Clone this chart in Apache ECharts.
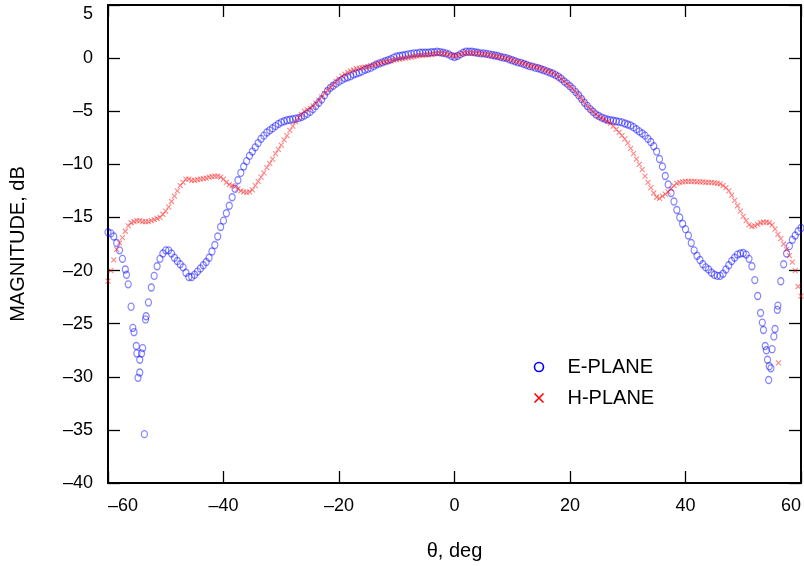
<!DOCTYPE html>
<html>
<head>
<meta charset="utf-8">
<script src="https://cdn.jsdelivr.net/npm/echarts@6/dist/echarts.min.js"></script>
<style>
html,body{margin:0;padding:0;background:#fff;}
#chart{width:804px;height:566px;}
</style>
</head>
<body>
<div id="chart"></div>
<script>
// Sample angles (deg)
const angles = [
 -60,-59.5,-59,-58.5,-58,-57.5,-57,-56.5,-56,-55.5,
 -55,-54.5,-54,-53.5,-53,-52.5,-52,-51.5,-51,-50.5,
 -50,-49.5,-49,-48.5,-48,-47.5,-47,-46.5,-46,-45.5,
 -45,-44.5,-44,-43.5,-43,-42.5,-42,-41.5,-41,-40.5,
 -40,-39.5,-39,-38.5,-38,-37.5,-37,-36.5,-36,-35.5,
 -35,-34.5,-34,-33.5,-33,-32.5,-32,-31.5,-31,-30.5,
 -30,-29.5,-29,-28.5,-28,-27.5,-27,-26.5,-26,-25.5,
 -25,-24.5,-24,-23.5,-23,-22.5,-22,-21.5,-21,-20.5,
 -20,-19.5,-19,-18.5,-18,-17.5,-17,-16.5,-16,-15.5,
 -15,-14.5,-14,-13.5,-13,-12.5,-12,-11.5,-11,-10.5,
 -10,-9.5,-9,-8.5,-8,-7.5,-7,-6.5,-6,-5.5,
 -5,-4.5,-4,-3.5,-3,-2.5,-2,-1.5,-1,-0.5,
 0,0.5,1,1.5,2,2.5,3,3.5,4,4.5,
 5,5.5,6,6.5,7,7.5,8,8.5,9,9.5,
 10,10.5,11,11.5,12,12.5,13,13.5,14,14.5,
 15,15.5,16,16.5,17,17.5,18,18.5,19,19.5,
 20,20.5,21,21.5,22,22.5,23,23.5,24,24.5,
 25,25.5,26,26.5,27,27.5,28,28.5,29,29.5,
 30,30.5,31,31.5,32,32.5,33,33.5,34,34.5,
 35,35.5,36,36.5,37,37.5,38,38.5,39,39.5,
 40,40.5,41,41.5,42,42.5,43,43.5,44,44.5,
 45,45.5,46,46.5,47,47.5,48,48.5,49,49.5,
 50,50.5,51,51.5,52,52.5,53,53.5,54,54.5,
 55,55.5,56,56.5,57,57.5,58,58.5,59,59.5,
 60
];
// E-PLANE magnitude (dB)
const ePlane = [
 -16.4,-16.5,-16.8,-17.4,-18.1,-18.9,-19.9,-21.3,-23.4,-25.8,
 -27.8,-29.6,-27.3,-24.6,-23.0,-21.6,-20.5,-19.6,-18.9,-18.4,
 -18.1,-18.1,-18.4,-18.8,-19.1,-19.4,-19.7,-20.2,-20.6,-20.6,
 -20.4,-20.1,-19.8,-19.5,-19.2,-18.8,-18.2,-17.6,-16.8,-15.9,
 -15.3,-14.6,-13.9,-13.1,-12.3,-11.5,-10.8,-10.2,-9.7,-9.2,
 -8.8,-8.4,-8.0,-7.6,-7.3,-7.0,-6.8,-6.6,-6.4,-6.2,
 -6.05,-5.95,-5.85,-5.8,-5.75,-5.7,-5.65,-5.55,-5.4,-5.25,
 -5.05,-4.8,-4.5,-4.2,-3.9,-3.5,-3.1,-2.8,-2.6,-2.4,
 -2.2,-2.05,-1.9,-1.8,-1.7,-1.55,-1.45,-1.35,-1.25,-1.1,
 -1.0,-0.9,-0.75,-0.6,-0.5,-0.4,-0.3,-0.2,-0.1,0.05,
 0.15,0.2,0.25,0.3,0.35,0.4,0.45,0.45,0.5,0.5,
 0.5,0.5,0.55,0.55,0.6,0.55,0.5,0.45,0.35,0.2,
 0.1,0.2,0.35,0.5,0.6,0.6,0.6,0.55,0.5,0.45,
 0.45,0.4,0.35,0.3,0.25,0.2,0.1,0.05,0.0,-0.1,
 -0.2,-0.3,-0.4,-0.45,-0.55,-0.65,-0.75,-0.8,-0.9,-0.95,
 -1.05,-1.15,-1.25,-1.35,-1.45,-1.6,-1.75,-1.95,-2.2,-2.4,
 -2.65,-2.9,-3.2,-3.5,-3.85,-4.2,-4.5,-4.8,-5.05,-5.3,
 -5.45,-5.6,-5.7,-5.8,-5.85,-5.9,-5.95,-6.0,-6.05,-6.15,
 -6.25,-6.35,-6.5,-6.7,-6.9,-7.1,-7.3,-7.6,-7.9,-8.3,
 -8.8,-9.5,-10.2,-11.1,-11.9,-12.7,-13.5,-14.3,-15.0,-15.6,
 -16.1,-16.7,-17.4,-18.1,-18.6,-19.0,-19.4,-19.7,-19.9,-20.2,
 -20.4,-20.5,-20.5,-20.3,-19.9,-19.5,-19.1,-18.8,-18.5,-18.4,
 -18.35,-18.5,-18.9,-19.6,-20.9,-22.4,-24.0,-25.6,-27.5,-29.0,
 -27.4,-25.5,-23.3,-21.0,-19.4,-18.4,-17.7,-17.1,-16.7,-16.3,
 -16.0
];
// H-PLANE magnitude (dB)
const hPlane = [
 -21.0,-20.0,-19.0,-18.0,-17.4,-16.9,-16.3,-15.8,-15.5,-15.4,
 -15.3,-15.3,-15.4,-15.4,-15.4,-15.3,-15.2,-15.1,-15.0,-14.7,
 -14.4,-14.0,-13.5,-13.0,-12.5,-12.0,-11.7,-11.4,-11.4,-11.5,
 -11.5,-11.45,-11.4,-11.35,-11.3,-11.2,-11.15,-11.1,-11.1,-11.2,
 -11.4,-11.7,-11.9,-12.0,-12.1,-12.3,-12.5,-12.6,-12.65,-12.6,
 -12.4,-12.0,-11.6,-11.2,-10.8,-10.3,-9.9,-9.5,-9.0,-8.6,
 -8.2,-7.7,-7.3,-6.8,-6.4,-6.0,-5.6,-5.3,-5.0,-4.85,
 -4.7,-4.5,-4.25,-3.95,-3.65,-3.35,-3.05,-2.75,-2.5,-2.2,
 -1.95,-1.7,-1.5,-1.35,-1.2,-1.1,-1.0,-0.95,-0.9,-0.85,
 -0.8,-0.7,-0.65,-0.55,-0.5,-0.4,-0.35,-0.3,-0.25,-0.2,
 -0.15,-0.1,-0.05,0.0,0.05,0.1,0.15,0.2,0.25,0.25,
 0.3,0.3,0.35,0.4,0.45,0.45,0.45,0.4,0.35,0.25,
 0.2,0.25,0.35,0.45,0.5,0.5,0.5,0.45,0.45,0.4,
 0.4,0.35,0.3,0.25,0.2,0.15,0.1,0.05,-0.05,-0.1,
 -0.2,-0.3,-0.35,-0.45,-0.5,-0.6,-0.7,-0.75,-0.85,-0.9,
 -1.0,-1.1,-1.2,-1.3,-1.4,-1.55,-1.75,-1.95,-2.2,-2.4,
 -2.65,-2.9,-3.2,-3.5,-3.85,-4.2,-4.5,-4.8,-5.05,-5.3,
 -5.5,-5.65,-5.8,-5.95,-6.15,-6.4,-6.7,-7.0,-7.3,-7.6,
 -8.0,-8.5,-9.0,-9.5,-10.0,-10.5,-11.1,-11.7,-12.2,-12.7,
 -13.1,-13.2,-13.0,-12.8,-12.6,-12.3,-12.0,-11.8,-11.7,-11.65,
 -11.6,-11.6,-11.6,-11.6,-11.65,-11.65,-11.65,-11.7,-11.7,-11.7,
 -11.75,-11.8,-11.85,-12.0,-12.2,-12.5,-12.9,-13.4,-13.9,-14.4,
 -14.9,-15.3,-15.7,-15.85,-15.8,-15.65,-15.5,-15.45,-15.45,-15.5,
 -15.7,-16.1,-16.6,-17.0,-17.5,-18.0,-18.6,-19.2,-20.0,-21.5,
 -22.4
];
// Extra scattered measurement points in the nulls
const eExtraAngles = [-56.8,-55.7,-55.1,-54.8,-54.5,-54.2,-53.7,-53.4,53.3,53.8,54.2,54.4,54.8,55.3,55.9];
const eExtraValues = [-20.4,-25.4,-27.1,-30.1,-28.4,-27.8,-35.4,-24.3,-24.9,-27.1,-28.4,-30.3,-29.2,-26.2,-23.7];
const hExtraAngles = [56.1];
const hExtraValues = [-28.7];

const xTicks = [-60,-40,-20,0,20,40,60];
const yTicks = [-40,-35,-30,-25,-20,-15,-10,-5,0,5];

const eData = angles.map((a,i)=>[a,ePlane[i]]).concat(eExtraAngles.map((a,i)=>[a,eExtraValues[i]]));
const hData = angles.map((a,i)=>[a,hPlane[i]]).concat(hExtraAngles.map((a,i)=>[a,hExtraValues[i]]));

const FONT = '"Liberation Sans", Arial, Helvetica, sans-serif';
const dash = v => String(v).replace('-', '\u2013');
const xPath = 'path://M0,0L10,10M10,0L0,10';

const chart = echarts.init(document.getElementById('chart'), null, {renderer:'canvas'});
const axisLine = {show:true, onZero:false, lineStyle:{color:'#000', width:2}};
const tick = {show:true, inside:true, length:12, lineStyle:{color:'#000', width:1.3}};
chart.setOption({
  animation:false,
  backgroundColor:'#fff',
  textStyle:{fontFamily:FONT},
  grid:{left:108, right:3, top:5, bottom:83, containLabel:false},
  xAxis:[{
    type:'value', min:xTicks[0], max:xTicks[xTicks.length-1], interval:20, position:'bottom',
    axisLine:axisLine, axisTick:tick, splitLine:{show:false},
    axisLabel:{fontSize:18, color:'#000', margin:14, fontFamily:FONT, formatter:dash,
               alignMinLabel:'left', alignMaxLabel:'right'},
    name:'\u03b8, deg', nameLocation:'middle', nameGap:58,
    nameTextStyle:{fontSize:20, color:'#000', fontFamily:FONT}
  },{
    type:'value', min:xTicks[0], max:xTicks[xTicks.length-1], interval:20, position:'top',
    axisLine:axisLine, axisTick:tick, axisLabel:{show:false}, splitLine:{show:false}
  }],
  yAxis:[{
    type:'value', min:yTicks[0], max:yTicks[yTicks.length-1], interval:5, position:'left',
    axisLine:axisLine, axisTick:tick, splitLine:{show:false},
    axisLabel:{fontSize:18, color:'#000', margin:15, fontFamily:FONT, formatter:dash,
               verticalAlignMaxLabel:'top'},
    name:'MAGNITUDE, dB', nameLocation:'middle', nameGap:80, nameRotate:90,
    nameTextStyle:{fontSize:20, color:'#000', fontFamily:FONT}
  },{
    type:'value', min:yTicks[0], max:yTicks[yTicks.length-1], interval:5, position:'right',
    axisLine:axisLine, axisTick:tick, axisLabel:{show:false}, splitLine:{show:false}
  }],
  legend:{
    orient:'vertical', left:527, top:352, itemWidth:9, itemHeight:9, itemGap:11,
    textStyle:{fontSize:20, color:'#000', fontFamily:FONT, lineHeight:20, padding:[0,0,0,19]},
    data:[
      {name:'E-PLANE', icon:'circle', itemStyle:{color:'none', borderColor:'#0000ff', borderWidth:1.6, opacity:1}},
      {name:'H-PLANE', icon:xPath, itemStyle:{color:'none', borderColor:'#ff0000', borderWidth:1.6, opacity:1}}
    ]
  },
  series:[{
    name:'E-PLANE', type:'scatter', data:eData, symbol:'circle', symbolSize:[6,7],
    itemStyle:{color:'none', borderColor:'rgba(0,0,255,0.6)', borderWidth:1.3},
    emphasis:{disabled:true}, z:2
  },{
    name:'H-PLANE', type:'scatter', data:hData, symbol:xPath, symbolSize:5,
    itemStyle:{color:'none', borderColor:'rgba(255,0,0,0.6)', borderWidth:1.1},
    emphasis:{disabled:true}, z:3
  }]
});
</script>
</body>
</html>
